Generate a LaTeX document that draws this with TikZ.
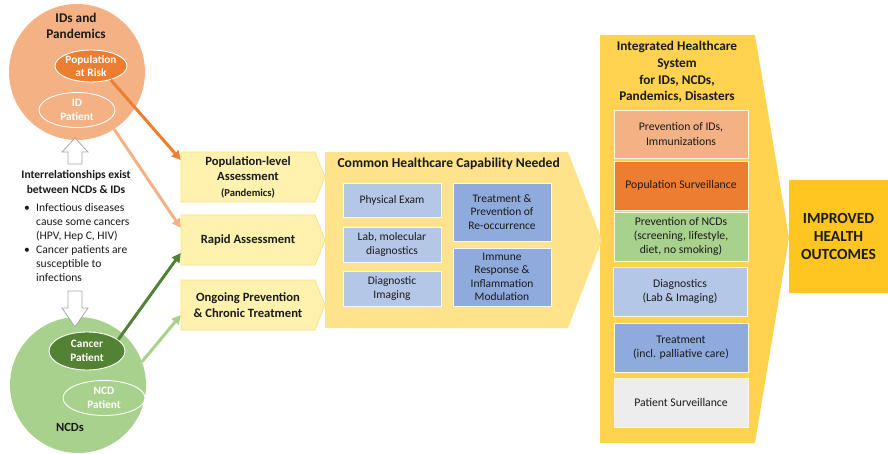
\documentclass[tikz,border=0pt]{standalone}
\usepackage{fontspec}
\setmainfont{Carlito}
\usetikzlibrary{shapes.geometric,arrows.meta,calc}
\definecolor{idc}{HTML}{F4B183}
\definecolor{ido}{HTML}{ED7D31}
\definecolor{ncl}{HTML}{A9D18E}
\definecolor{ncd}{HTML}{548235}
\definecolor{blL}{HTML}{B4C7E7}
\definecolor{blD}{HTML}{8FAADC}
\definecolor{grL}{HTML}{EDEDED}
\definecolor{panelY}{HTML}{FFD350}
\definecolor{capY}{HTML}{FFE38A}
\definecolor{chevY}{HTML}{FFF2AE}
\definecolor{chevE}{HTML}{FFE27A}
\definecolor{goldY}{HTML}{FFC622}
\definecolor{txt}{HTML}{1A1A1A}
\begin{document}
\begin{tikzpicture}[x=1pt,y=-1pt,
  bigc/.style={circle,minimum size=136,inner sep=0},
  ell/.style={ellipse,draw=white,line width=0.9,inner sep=0},
  elltxt/.style={text=white,font=\bfseries\fontsize{11.3}{13.5}\selectfont,align=center},
  arr/.style={line width=3,-{Triangle[length=9,width=9]}},
  chev/.style={fill=chevY,draw=chevE,line width=0.8},
  chevtxt/.style={minimum width=134,minimum height=50,inner sep=0,align=center,text=txt,font=\bfseries\fontsize{12.6}{15.5}\selectfont},
  capbox/.style={rectangle,draw=white!85!blL,line width=0.8,minimum width=98,inner sep=1,align=center,text=txt,font=\fontsize{11.5}{13.5}\selectfont},
  sysbox/.style={rectangle,draw=white!80!panelY,line width=0.8,minimum width=134,minimum height=48,inner sep=1,align=center,text=txt,font=\fontsize{11.7}{14}\selectfont},
  hollow/.style={draw=gray!70,fill=white,line width=0.8}
]
\useasboundingbox (0,0) rectangle (888,454);

% ---- integrated system panel
\fill[panelY] (600,35) -- (755,35) -- (789,238) -- (755,443) -- (600,443) -- cycle;
\node[align=center,text=txt,font=\bfseries\fontsize{13.3}{16.7}\selectfont] (sys) at (677,72)
  {Integrated Healthcare\\System\\for IDs, NCDs,\\Pandemics, Disasters};
\node[sysbox,fill=idc] (s1) at (681,134) {Prevention of IDs,\\Immunizations};
\node[sysbox,fill=ido,minimum height=49] (s2) at (681,185.5) {Population Surveillance};
\node[sysbox,fill=ncl,minimum height=49] (s3) at (681,236.5) {Prevention of NCDs\\(screening, lifestyle,\\diet, no smoking)};
\node[sysbox,fill=blL,minimum height=49] (s4) at (680,291.5) {Diagnostics\\(Lab \& Imaging)};
\node[sysbox,fill=blD,minimum height=49] (s5) at (681,347.5) {Treatment\\(incl. palliative care)};
\node[sysbox,fill=grL,minimum height=49] (s6) at (681,402.5) {Patient Surveillance};

% ---- improved outcomes
\node[rectangle,fill=goldY,minimum width=99,minimum height=113,inner sep=0,align=center,text=txt,
  font=\bfseries\fontsize{15.5}{18.3}\selectfont] (imp) at (838.5,236.5) {IMPROVED\\HEALTH\\OUTCOMES};

% ---- common capability arrow
\fill[capY] (325,152) -- (568,152) -- (602,240) -- (568,328) -- (325,328) -- cycle;
\node[anchor=west,text=txt,font=\bfseries\fontsize{13.6}{15}\selectfont] (cap) at (334,164) {Common Healthcare Capability Needed};
\node[capbox,fill=blL,minimum height=34] (c1) at (392,200) {Physical Exam};
\node[capbox,fill=blL,minimum height=35] (c2) at (392,244.5) {Lab, molecular\\diagnostics};
\node[capbox,fill=blL,minimum height=35] (c3) at (392,288.5) {Diagnostic\\Imaging};
\node[capbox,fill=blD,minimum height=58] (c4) at (502,212) {Treatment \&\\Prevention of\\Re-occurrence};
\node[capbox,fill=blD,minimum height=58] (c5) at (502,277) {Immune\\Response \&\\Inflammation\\Modulation};

% ---- left chevrons
\fill[chev] (181,152) -- (315,152) -- (325,177) -- (315,202) -- (181,202) -- cycle;
\fill[chev] (181,215) -- (315,215) -- (325,240) -- (315,265) -- (181,265) -- cycle;
\fill[chev] (181,280) -- (315,280) -- (325,305) -- (315,330) -- (181,330) -- cycle;
\node[chevtxt] (pla) at (248,177) {Population-level\\Assessment\\[0pt]{\fontsize{10.6}{12}\selectfont (Pandemics)}};
\node[chevtxt] (rap) at (248,240) {Rapid Assessment};
\node[chevtxt] (ong) at (248,305) {Ongoing Prevention\\\& Chronic Treatment};

% ---- circles
\node[bigc,fill=idc] (ids) at (77,72) {};
\node[align=center,text=txt,font=\bfseries\fontsize{13.3}{15.5}\selectfont] (idst) at (76,26) {IDs and\\Pandemics};
\node[ell,fill=ido,minimum width=72,minimum height=32,label={[elltxt]center:Population\\at Risk}] (par) at (91,66) {};
\node[ell,fill=idc,minimum width=76,minimum height=35,label={[elltxt]center:ID\\Patient}] (idp) at (77,110) {};

\node[bigc,fill=ncl] (ncds) at (78,385) {};
\node[ell,fill=ncd,minimum width=76,minimum height=38,label={[elltxt]center:Cancer\\Patient}] (cp) at (87,351) {};
\node[ell,fill=ncl,minimum width=82,minimum height=35,label={[elltxt]center:NCD\\Patient}] (np) at (104,398) {};
\node[text=txt,font=\bfseries\fontsize{12.5}{14}\selectfont] (ncdt) at (70,427) {NCDs};

% ---- hollow arrows
\path[hollow] (68,164) -- (68,152) -- (62,152) -- (75,138) -- (88,152) -- (82,152) -- (82,164) -- cycle;
\path[hollow] (68,291) -- (68,308) -- (62,308) -- (75,327) -- (88,308) -- (82,308) -- (82,291) -- cycle;

% ---- interrelationship text
\node[align=center,text=txt,font=\bfseries\fontsize{11.5}{15}\selectfont] (rel) at (76,182)
  {Interrelationships exist\\between NCDs \& IDs};
\node[anchor=north west,align=left,text=txt,font=\fontsize{11.6}{14}\selectfont,inner sep=0] (bul) at (24,203)
  {\makebox[12pt][l]{\textbullet}Infectious diseases\\
   \hspace*{12pt}cause some cancers\\
   \hspace*{12pt}(HPV, Hep C, HIV)\\
   \makebox[12pt][l]{\textbullet}Cancer patients are\\
   \hspace*{12pt}susceptible to\\
   \hspace*{12pt}infections};

% ---- colored arrows
\draw[arr,ido] (par.-35) -- ($(pla.west)+(0,-17)$);
\draw[arr,idc] (ids.-57) -- ($(rap.west)+(0,-12)$);
\draw[arr,ncd] (cp.20) -- ($(rap.west)+(0,13)$);
\draw[arr,ncl] (ncds.20) -- ($(ong.west)+(0,10)$);
\end{tikzpicture}
\end{document}
